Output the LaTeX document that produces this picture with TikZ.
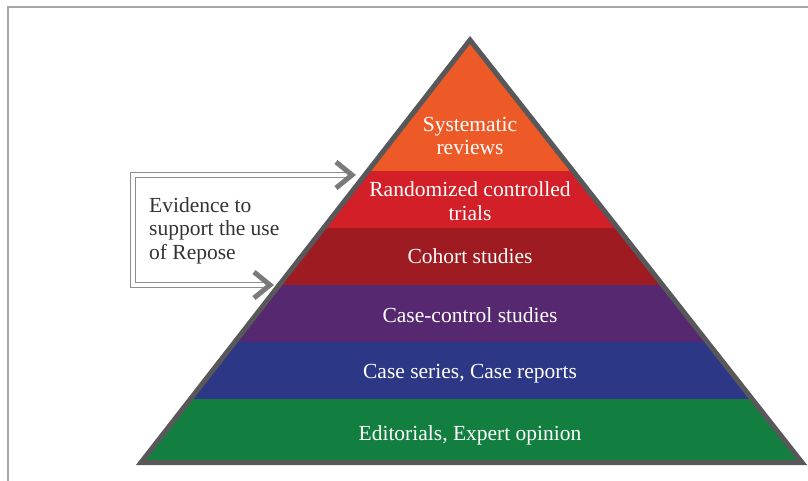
\documentclass[tikz,border=0pt]{standalone}
\usepackage{fontspec}
\setmainfont{Liberation Serif}
\definecolor{lvA}{HTML}{EE5A27}
\definecolor{lvB}{HTML}{D31F28}
\definecolor{lvC}{HTML}{9D1B21}
\definecolor{lvD}{HTML}{56286F}
\definecolor{lvE}{HTML}{2C3785}
\definecolor{lvF}{HTML}{127E3F}
\definecolor{edgegray}{HTML}{58585A}
\definecolor{framegray}{HTML}{A6A6A6}
\definecolor{boxgray}{HTML}{8E8E8E}
\definecolor{chevgray}{HTML}{7A7A7A}
\definecolor{txtdark}{HTML}{333333}
\begin{document}
\begin{tikzpicture}[x=1pt,y=-1pt,
  lbl/.style={text=white, font=\fontsize{21.5}{23.5}\selectfont, align=center, anchor=base, inner sep=0pt},
  boxtxt/.style={text=txtdark, font=\fontsize{21.5}{23.5}\selectfont, align=left, anchor=base west, inner sep=0pt},
  chev/.style={draw=chevgray, line width=5pt, line join=miter},
  dbl/.style={draw=boxgray, line width=1.1pt, double=white, double distance=3.2pt, line join=miter}]
\useasboundingbox (0,0) rectangle (808,481);
\draw[framegray, line width=1.2pt] (8,481) -- (8,7) -- (808,7);
\coordinate (apex) at (470,40);
\coordinate (bl) at (141,462.5);
\coordinate (br) at (802,462.5);
\begin{scope}
\clip (apex) -- (bl) -- (br) -- cycle;
\fill[lvA] (100,30) rectangle (820,171);
\fill[lvB] (100,171) rectangle (820,228);
\fill[lvC] (100,228) rectangle (820,285);
\fill[lvD] (100,285) rectangle (820,342);
\fill[lvE] (100,342) rectangle (820,399);
\fill[lvF] (100,399) rectangle (820,470);
\end{scope}
\draw[edgegray, line width=5pt, line join=miter] (apex) -- (bl) -- (br) -- cycle;
\node[lbl] (sr) at (470,155) {Systematic\\reviews};
\node[lbl] (rct) at (470,220) {Randomized controlled\\trials};
\node[lbl] (coh) at (470,263) {Cohort studies};
\node[lbl] (cc) at (470,322) {Case-control studies};
\node[lbl] (cs) at (470,378) {Case series, Case reports};
\node[lbl] (ed) at (470,440) {Editorials, Expert opinion};
\node[boxtxt] (evid) at (149,259) {Evidence to\\support the use\\of Repose};
\coordinate (tipA) at (352,175);
\coordinate (tipB) at (270,285);
\draw[dbl] (tipA) -| (133,285) -- (tipB);
\draw[chev] (tipA) ++(-16,-13) -- (tipA) -- ++(-16,13);
\draw[chev] (tipB) ++(-16,-13) -- (tipB) -- ++(-16,13);
\end{tikzpicture}
\end{document}
